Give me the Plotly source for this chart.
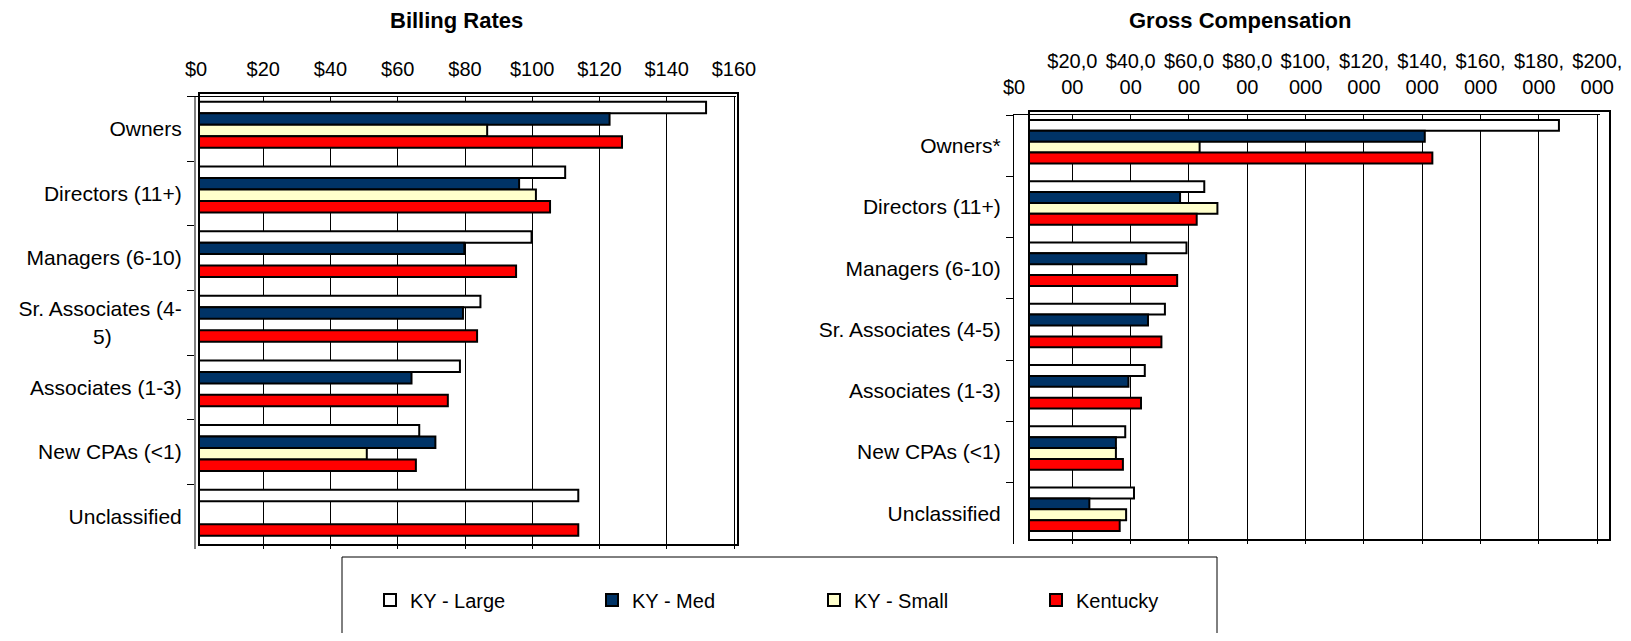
import plotly.graph_objects as go

# page coordinates of the 1631x641 window; the figure sits inside the
# default 8px page margin
PAGE_OFF = 8
W, H = 1631 - 2 * PAGE_OFF, 641 - 2 * PAGE_OFF
NB = "\u00a0"

# ---------------- data ----------------
series_names = ["KY - Large", "KY - Med", "KY - Small", "Kentucky"]
series_colors = ["#FFFFFF", "#003366", "#FFFFCC", "#FF0000"]

left_title = "Billing Rates"
left_categories = ["Owners", "Directors (11+)", "Managers (6-10)",
                   "Sr. Associates (4-<br>5)" + NB * 12,
                   "Associates (1-3)", "New CPAs (<1)", "Unclassified"]
left_large = [150.8, 108.9, 98.9, 83.7, 77.6, 65.5, 112.8]
left_med = [122.1, 95.2, 78.9, 78.5, 63.2, 70.3, None]
left_small = [85.7, 100.2, None, None, None, 49.9, None]
left_ky = [125.8, 104.4, 94.3, 82.7, 74.0, 64.5, 112.8]
left_ticks = [0, 20, 40, 60, 80, 100, 120, 140, 160]

right_title = "Gross Compensation"
right_categories = ["Owners*", "Directors (11+)", "Managers (6-10)",
                    "Sr. Associates (4-5)", "Associates (1-3)",
                    "New CPAs (<1)", "Unclassified"]
right_large = [181700, 60100, 54000, 46600, 39700, 33000, 36000]
right_med = [135700, 51800, 40200, 40800, 34100, 29800, 20700]
right_small = [58500, 64600, None, None, None, 29800, 33300]
right_ky = [138300, 57500, 50800, 45400, 38400, 32200, 31100]
right_ticks = [0, 20000, 40000, 60000, 80000, 100000, 120000,
               140000, 160000, 180000, 200000]

# ---------------- helpers ----------------
FONT = "Liberation Sans, Arial, sans-serif"


def px(p):
    return (p - PAGE_OFF) / W


def py(p):
    return 1 - (p - PAGE_OFF) / H


def wrap_money(v):
    s = "${:,}".format(v)
    return s if len(s) <= 5 else s[:5] + "<br>" + s[5:]


fig = go.Figure()

left_series = [left_large, left_med, left_small, left_ky]
right_series = [right_large, right_med, right_small, right_ky]

# visible bars (drawn on the slightly offset bar layers)
for name, color, vals in zip(series_names, series_colors, left_series):
    fig.add_trace(go.Bar(
        y=left_categories, x=vals, orientation="h", name=name,
        marker=dict(color=color, line=dict(color="black", width=2)),
        xaxis="x3", yaxis="y3", legendgroup=name))

for name, color, vals in zip(series_names, series_colors, right_series):
    fig.add_trace(go.Bar(
        y=right_categories, x=vals, orientation="h", name=name,
        marker=dict(color=color, line=dict(color="black", width=2)),
        xaxis="x4", yaxis="y4", legendgroup=name, showlegend=False))

# transparent copies that carry the labelled axes / gridlines
fig.add_trace(go.Bar(y=left_categories, x=left_large, orientation="h",
                     marker=dict(color="rgba(0,0,0,0)", line=dict(width=0)),
                     xaxis="x", yaxis="y", showlegend=False,
                     hoverinfo="skip"))
fig.add_trace(go.Bar(y=right_categories, x=right_large, orientation="h",
                     marker=dict(color="rgba(0,0,0,0)", line=dict(width=0)),
                     xaxis="x2", yaxis="y2", showlegend=False,
                     hoverinfo="skip"))

n = len(left_categories)

# left chart scale: $0 at page x 196, 3.3625 px per $
L_MAX = 160.5
l_x0, l_x1 = 196, 196 + L_MAX * 3.3625
# right chart scale: $0 at page x 1014, 2.9165 px per $1000
R_MAX = 201000
r_x0, r_x1 = 1014, 1014 + R_MAX / 1000 * 2.9165

tickfont = dict(family=FONT, size=20, color="black")
catfont = dict(family=FONT, size=21, color="black")

common_x = dict(side="top", showgrid=True, gridcolor="black", gridwidth=1,
                showline=True, linecolor="black", linewidth=1, ticks="",
                zeroline=False, tickfont=tickfont, tickmode="array",
                ticklabelstandoff=12, fixedrange=True, automargin=False)
common_y = dict(type="category", range=[n - 0.5, -0.5], showgrid=False,
                zeroline=False, ticks="outside", tickson="boundaries",
                ticklen=7, tickwidth=1, tickcolor="black",
                tickfont=catfont, showline=True, ticklabelstandoff=8,
                fixedrange=True, automargin=False)

fig.update_layout(
    width=W, height=H,
    margin=dict(l=0, r=0, t=0, b=0, autoexpand=False),
    paper_bgcolor="white", plot_bgcolor="rgba(0,0,0,0)",
    barmode="group", bargap=0.29, bargroupgap=0,
    font=dict(family=FONT, size=20, color="black"),
    # left grid / labels
    xaxis=dict(common_x, domain=[px(l_x0), px(l_x1)], range=[0, L_MAX],
               tickvals=left_ticks,
               ticktext=["${}".format(v) for v in left_ticks], anchor="y"),
    yaxis=dict(common_y, domain=[py(549), py(96.5)],
               categoryorder="array", categoryarray=left_categories,
               linecolor="#808080", linewidth=2, anchor="x"),
    # right grid / labels
    xaxis2=dict(common_x, domain=[px(r_x0), px(r_x1)], range=[0, R_MAX],
                tickvals=right_ticks,
                ticktext=[wrap_money(v) for v in right_ticks], anchor="y2"),
    yaxis2=dict(common_y, domain=[py(544), py(115)],
                categoryorder="array", categoryarray=right_categories,
                linecolor="black", linewidth=1, anchor="x2"),
    # bar layers (slightly offset, as in the original rendering)
    xaxis3=dict(domain=[px(l_x0 + 3), px(l_x1 + 3)], range=[0, L_MAX],
                visible=False, anchor="y3", fixedrange=True),
    yaxis3=dict(domain=[py(545), py(92.5)], range=[n - 0.5, -0.5],
                type="category", categoryorder="array",
                categoryarray=left_categories, visible=False, anchor="x3",
                fixedrange=True),
    xaxis4=dict(domain=[px(r_x0 + 15), px(r_x1 + 15)], range=[0, R_MAX],
                visible=False, anchor="y4", fixedrange=True),
    yaxis4=dict(domain=[py(540), py(111)], range=[n - 0.5, -0.5],
                type="category", categoryorder="array",
                categoryarray=right_categories, visible=False, anchor="x4",
                fixedrange=True),
    legend=dict(orientation="h", x=px(370), y=py(600), xanchor="left",
                yanchor="middle", font=dict(family=FONT, size=20),
                entrywidth=177, entrywidthmode="pixels", itemwidth=30,
                bgcolor="rgba(0,0,0,0)", borderwidth=0, traceorder="normal"),
    showlegend=True,
)

# frames and legend box
fig.add_shape(type="rect", xref="paper", yref="paper",
              x0=px(199), x1=px(738), y0=py(545), y1=py(93),
              line=dict(color="black", width=2), layer="above")
fig.add_shape(type="rect", xref="paper", yref="paper",
              x0=px(1029), x1=px(1610), y0=py(540), y1=py(111),
              line=dict(color="black", width=2), layer="above")
fig.add_shape(type="rect", xref="paper", yref="paper",
              x0=px(342), x1=px(1217), y0=py(660), y1=py(557),
              line=dict(color="black", width=1), layer="above")

# titles
fig.add_annotation(text="<b>" + left_title + "</b>", xref="paper",
                   yref="paper", x=px(456), y=py(20.5), showarrow=False,
                   xanchor="center", yanchor="middle", borderpad=0,
                   font=dict(family=FONT, size=22, color="black"))
fig.add_annotation(text="<b>" + right_title + "</b>", xref="paper",
                   yref="paper", x=px(1240), y=py(20.5), showarrow=False,
                   xanchor="center", yanchor="middle", borderpad=0,
                   font=dict(family=FONT, size=22, color="black"))

fig.write_html("out.html")
